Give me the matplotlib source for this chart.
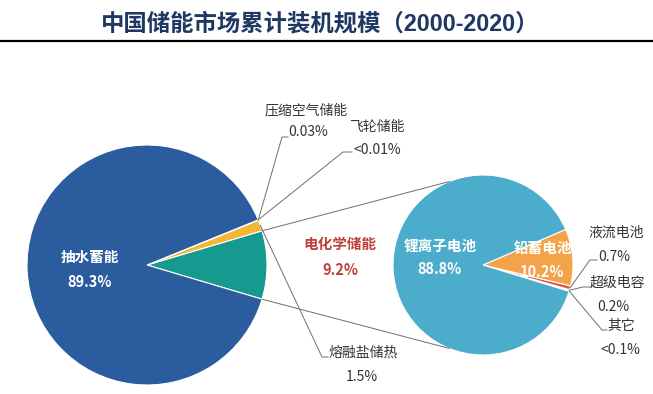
import numpy as np
import matplotlib
matplotlib.use("Agg")
import matplotlib.pyplot as plt

plt.rcParams['font.family'] = ['Noto Sans CJK SC', 'DejaVu Sans']

# ---------------- data ----------------
title = "中国储能市场累计装机规模（2000-2020）"

main_labels = ['电化学储能', '熔融盐储热', '压缩空气储能', '飞轮储能', '抽水蓄能']
main_values = [9.2, 1.5, 0.03, 0.01, 89.3]
main_pct = ['9.2%', '1.5%', '0.03%', '<0.01%', '89.3%']
main_colors = ['#16998e', '#f2b735', '#d9d9d9', '#a5a5a5', '#2a5c9e']

sub_labels = ['其它', '超级电容', '液流电池', '铅蓄电池', '锂离子电池']
sub_values = [0.1, 0.2, 0.7, 10.2, 88.8]
sub_pct = ['<0.1%', '0.2%', '0.7%', '10.2%', '88.8%']
sub_colors = ['#b7b7b7', '#f2a7a0', '#e0574a', '#f5a34b', '#4badcb']

# ---------------- layout ----------------
W, H = 653, 394
fig = plt.figure(figsize=(W / 100, H / 100), dpi=100)
ax = fig.add_axes([0, 0, 1, 1])


def Y(y):
    return H - y


main_c = (147, Y(265))
main_r = 120
sub_c = (483, Y(265))
sub_r = 90

main_start = -main_values[0] / sum(main_values) * 360 / 2
wedges_m, _ = ax.pie(main_values, colors=main_colors, startangle=main_start,
                     counterclock=True, center=main_c, radius=main_r,
                     wedgeprops=dict(edgecolor='white', linewidth=0.8))
sub_start = -17
wedges_s, _ = ax.pie(sub_values, colors=sub_colors, startangle=sub_start,
                     counterclock=True, center=sub_c, radius=sub_r,
                     wedgeprops=dict(edgecolor='white', linewidth=0.8))


def edge_pt(c, r, ang, f=1.0):
    a = np.deg2rad(ang)
    return c[0] + f * r * np.cos(a), c[1] + f * r * np.sin(a)


line_kw = dict(color='#6e6e6e', lw=0.7, zorder=1)

# connection lines between the two pies
t1, t2 = wedges_m[0].theta1, wedges_m[0].theta2
p_top = edge_pt(main_c, main_r, t2)
p_bot = edge_pt(main_c, main_r, t1)
q_top = edge_pt(sub_c, sub_r, 112)
q_bot = edge_pt(sub_c, sub_r, -112)
ax.plot([p_top[0], q_top[0]], [p_top[1], q_top[1]], **line_kw)
ax.plot([p_bot[0], q_bot[0]], [p_bot[1], q_bot[1]], **line_kw)


def mid(w):
    return (w.theta1 + w.theta2) / 2


txt = '#333333'
fs = 10

# ---- main pie labels ----
ax.text(90, Y(257), main_labels[4], ha='center', va='center', color='white',
        fontsize=10.5, fontweight='bold')
ax.text(90, Y(282), main_pct[4], ha='center', va='center', color='white',
        fontsize=10.5, fontweight='bold')

ax.text(340, Y(244), main_labels[0], ha='center', va='center', color='#c0413b',
        fontsize=10.5, fontweight='bold')
ax.text(340, Y(270), main_pct[0], ha='center', va='center', color='#c0413b',
        fontsize=10.5, fontweight='bold')

# 压缩空气储能
p = edge_pt(main_c, main_r, mid(wedges_m[2]))
ax.plot([p[0], 282, 288], [p[1], Y(137), Y(137)], **line_kw)
ax.text(265, Y(110), main_labels[2], ha='left', va='center', color=txt, fontsize=fs)
ax.text(288, Y(132), main_pct[2], ha='left', va='center', color=txt, fontsize=fs)

# 飞轮储能
p = edge_pt(main_c, main_r, mid(wedges_m[3]))
ax.plot([p[0], 343, 352], [p[1], Y(152), Y(152)], **line_kw)
ax.text(349, Y(127), main_labels[3], ha='left', va='center', color=txt, fontsize=fs)
ax.text(353, Y(150), main_pct[3], ha='left', va='center', color=txt, fontsize=fs)

# 熔融盐储热
p = edge_pt(main_c, main_r, mid(wedges_m[1]))
ax.plot([p[0], 322, 328], [p[1], Y(357), Y(357)], **line_kw)
ax.text(329, Y(353), main_labels[1], ha='left', va='center', color=txt, fontsize=fs)
ax.text(362, Y(377), main_pct[1], ha='center', va='center', color=txt, fontsize=fs)

# ---- sub pie labels ----
ax.text(440, Y(246), sub_labels[4], ha='center', va='center', color='white',
        fontsize=10.5, fontweight='bold')
ax.text(440, Y(269), sub_pct[4], ha='center', va='center', color='white',
        fontsize=10.5, fontweight='bold')
ax.text(543, Y(248), sub_labels[3], ha='center', va='center', color='white',
        fontsize=10.5, fontweight='bold')
ax.text(542, Y(272), sub_pct[3], ha='center', va='center', color='white',
        fontsize=10.5, fontweight='bold')

# 液流电池
p = edge_pt(sub_c, sub_r, mid(wedges_s[2]))
ax.plot([p[0], 590, 597], [p[1], Y(260), Y(260)], **line_kw)
ax.text(588, Y(233), sub_labels[2], ha='left', va='center', color=txt, fontsize=fs)
ax.text(614, Y(257), sub_pct[2], ha='center', va='center', color=txt, fontsize=fs)

# 超级电容
p = edge_pt(sub_c, sub_r, mid(wedges_s[1]))
ax.plot([p[0], 583, 591], [p[1], Y(287), Y(287)], **line_kw)
ax.text(590, Y(283), sub_labels[1], ha='left', va='center', color=txt, fontsize=fs)
ax.text(613, Y(307), sub_pct[1], ha='center', va='center', color=txt, fontsize=fs)

# 其它
p = edge_pt(sub_c, sub_r, mid(wedges_s[0]))
ax.plot([p[0], 602, 607], [p[1], Y(330), Y(330)], **line_kw)
ax.text(607, Y(326), sub_labels[0], ha='left', va='center', color=txt, fontsize=fs)
ax.text(620, Y(350), sub_pct[0], ha='center', va='center', color=txt, fontsize=fs)

# ---- title and rule ----
ax.text(320, Y(24), title, ha='center', va='center', color='#1f3763',
        fontsize=16.8, fontweight='bold', family=['Liberation Sans', 'Noto Sans CJK SC'])
ax.plot([0, W], [Y(41), Y(41)], color='black', lw=1.6, solid_capstyle='butt')

ax.set_xlim(0, W)
ax.set_ylim(0, H)
ax.set_aspect('auto')
ax.axis('off')

fig.savefig('out.png', dpi=100, facecolor='white')
